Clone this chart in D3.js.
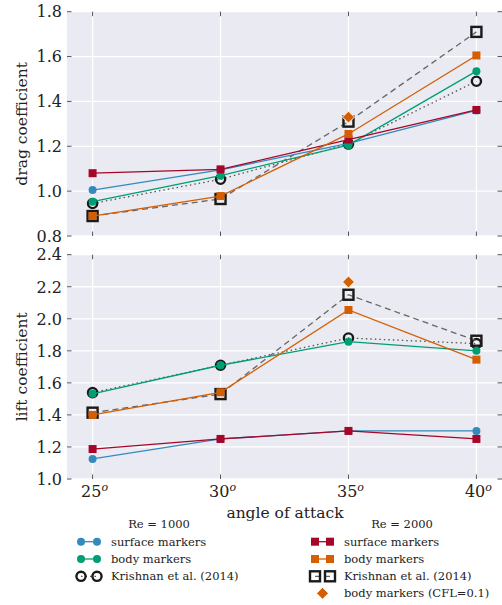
<!DOCTYPE html>
<html>
<head>
<meta charset="utf-8">
<script src="https://cdn.jsdelivr.net/npm/d3@7"></script>
<style>
  html, body { margin: 0; padding: 0; background: #fff; }
  svg { display: block; font-family: "DejaVu Serif", serif; }
</style>
</head>
<body>
<svg id="chart" width="502" height="605"></svg>
<script>
// ---------- data ----------
const angles = [25, 30, 35, 40];
const xTickLabels = ["25", "30", "35", "40"];
const dragTicks = [0.8, 1.0, 1.2, 1.4, 1.6, 1.8];
const liftTicks = [1.0, 1.2, 1.4, 1.6, 1.8, 2.0, 2.2, 2.4];

const dragSurf1000 = [1.005, 1.095, 1.213, 1.36];
const dragBody1000 = [0.953, 1.069, 1.205, 1.535];
const dragKrish1000 = [0.945, 1.053, 1.21, 1.49];
const dragSurf2000 = [1.08, 1.097, 1.23, 1.362];
const dragBody2000 = [0.889, 0.978, 1.255, 1.605];
const dragKrish2000 = [0.889, 0.965, 1.31, 1.71];
const dragCFLAngle = [35];
const dragCFL = [1.33];

const liftSurf1000 = [1.125, 1.25, 1.30, 1.30];
const liftBody1000 = [1.532, 1.71, 1.857, 1.80];
const liftKrish1000 = [1.539, 1.71, 1.88, 1.845];
const liftSurf2000 = [1.187, 1.25, 1.30, 1.25];
const liftBody2000 = [1.40, 1.541, 2.055, 1.745];
const liftKrish2000 = [1.414, 1.53, 2.15, 1.863];
const liftCFLAngle = [35];
const liftCFL = [2.23];

const colBlue = "#348ABD", colGreen = "#009E73", colRed = "#A60628", colOrange = "#D55E00";

// ---------- layout ----------
const svg = d3.select("#chart");
const x = d3.scaleLinear().domain([24, 41]).range([67, 502]);
const yDrag = d3.scaleLinear().domain([0.8, 1.8]).range([236, 11.7]);
const yLift = d3.scaleLinear().domain([1.0, 2.4]).range([479, 254.7]);

function marker(g, type, cx, cy, opts) {
  if (type === "circle") {
    g.append("circle").attr("cx", cx).attr("cy", cy).attr("r", opts.r)
      .attr("fill", opts.fill).attr("stroke", opts.stroke || "none").attr("stroke-width", opts.sw || 0);
  } else if (type === "square") {
    g.append("rect").attr("x", cx - opts.r).attr("y", cy - opts.r).attr("width", 2 * opts.r).attr("height", 2 * opts.r)
      .attr("fill", opts.fill).attr("stroke", opts.stroke || "none").attr("stroke-width", opts.sw || 0);
  } else if (type === "diamond") {
    const r = opts.r;
    g.append("path").attr("d", `M${cx},${cy - r}L${cx + r},${cy}L${cx},${cy + r}L${cx - r},${cy}Z`)
      .attr("fill", opts.fill).attr("stroke", opts.stroke || "none").attr("stroke-width", opts.sw || 0);
  }
}

const styles = {
  surf1000: { color: colBlue, type: "circle", m: { r: 4, fill: colBlue }, lw: 1.3 },
  body1000: { color: colGreen, type: "circle", m: { r: 4, fill: colGreen }, lw: 1.3 },
  krish1000: { color: "#555", dash: "1.5,3", type: "circle", m: { r: 4.6, fill: "none", stroke: "#1a1a1a", sw: 2.4 }, lw: 1.3 },
  surf2000: { color: colRed, type: "square", m: { r: 4, fill: colRed }, lw: 1.3 },
  body2000: { color: colOrange, type: "square", m: { r: 4, fill: colOrange }, lw: 1.3 },
  krish2000: { color: "#666", dash: "6,4", type: "square", m: { r: 5, fill: "none", stroke: "#1a1a1a", sw: 2.4 }, lw: 1.3 },
  cfl: { color: "none", type: "diamond", m: { r: 6, fill: colOrange, stroke: "#fff", sw: 1 } }
};

function panel(y, series, ticks, label, showX) {
  const [y0, y1] = y.range();
  const [x0, x1] = x.range();
  const g = svg.append("g");
  g.append("rect").attr("x", x0).attr("y", y1).attr("width", x1 - x0).attr("height", y0 - y1).attr("fill", "#EAEAF2");
  // grid
  g.selectAll(".gy").data(ticks).join("line")
    .attr("x1", x0).attr("x2", x1).attr("y1", d => y(d)).attr("y2", d => y(d))
    .attr("stroke", "#fff").attr("stroke-width", 1.3);
  g.selectAll(".gx").data(angles).join("line")
    .attr("x1", d => x(d)).attr("x2", d => x(d)).attr("y1", y1).attr("y2", y0)
    .attr("stroke", "#fff").attr("stroke-width", 1.3);
  // ticks (inside)
  const tc = "#555", tl = 4.5;
  g.selectAll(".tl").data(ticks).join("line")
    .attr("x1", x0).attr("x2", x0 + tl).attr("y1", d => y(d)).attr("y2", d => y(d)).attr("stroke", tc).attr("stroke-width", 1);
  g.selectAll(".tr").data(ticks).join("line")
    .attr("x1", x1 - tl).attr("x2", x1).attr("y1", d => y(d)).attr("y2", d => y(d)).attr("stroke", tc).attr("stroke-width", 1);
  g.selectAll(".tt").data(angles).join("line")
    .attr("x1", d => x(d)).attr("x2", d => x(d)).attr("y1", y1).attr("y2", y1 + tl).attr("stroke", tc).attr("stroke-width", 1);
  g.selectAll(".tb").data(angles).join("line")
    .attr("x1", d => x(d)).attr("x2", d => x(d)).attr("y1", y0 - tl).attr("y2", y0).attr("stroke", tc).attr("stroke-width", 1);
  // y tick labels
  g.selectAll(".yl").data(ticks).join("text")
    .attr("x", x0 - 5).attr("y", d => y(d)).attr("dy", "0.36em")
    .attr("text-anchor", "end").attr("font-size", 16).attr("fill", "#222")
    .text(d => d3.format(".1f")(d));
  // y label
  g.append("text").attr("transform", `translate(27,${(y0 + y1) / 2}) rotate(-90)`)
    .attr("text-anchor", "middle").attr("font-size", 15.5).attr("fill", "#222").text(label);
  if (showX) {
    const xl = g.selectAll(".xl").data(angles).join("text")
      .attr("x", d => x(d) + 2).attr("y", y0 + 18)
      .attr("text-anchor", "middle").attr("font-size", 16).attr("fill", "#222");
    xl.append("tspan").text((d, i) => xTickLabels[i]);
    xl.append("tspan").attr("dy", -6).attr("font-size", 11).attr("font-style", "italic").text("o");
  }
  // series
  const line = d3.line().x(d => x(d[0])).y(d => y(d[1]));
  series.forEach(s => {
    const st = styles[s.key];
    const pts = s.xs.map((a, i) => [a, s.vals[i]]);
    if (st.color !== "none") {
      g.append("path").attr("d", line(pts)).attr("fill", "none").attr("stroke", st.color)
        .attr("stroke-width", st.lw).attr("stroke-dasharray", st.dash || null);
    }
    pts.forEach(p => marker(g, st.type, x(p[0]), y(p[1]), st.m));
  });
}

function seriesSet(k1, b1, s1, k2, b2, s2, cA, cV) {
  return [
    { key: "krish1000", xs: angles, vals: k1 },
    { key: "krish2000", xs: angles, vals: k2 },
    { key: "surf1000", xs: angles, vals: s1 },
    { key: "body1000", xs: angles, vals: b1 },
    { key: "surf2000", xs: angles, vals: s2 },
    { key: "body2000", xs: angles, vals: b2 },
    { key: "cfl", xs: cA, vals: cV }
  ];
}

panel(yDrag, seriesSet(dragKrish1000, dragBody1000, dragSurf1000, dragKrish2000, dragBody2000, dragSurf2000, dragCFLAngle, dragCFL),
  dragTicks, "drag coefficient", false);
panel(yLift, seriesSet(liftKrish1000, liftBody1000, liftSurf1000, liftKrish2000, liftBody2000, liftSurf2000, liftCFLAngle, liftCFL),
  liftTicks, "lift coefficient", true);

svg.append("text").attr("x", 285).attr("y", 518).attr("text-anchor", "middle")
  .attr("font-size", 15.5).attr("fill", "#222").text("angle of attack");

// ---------- legend ----------
const legendCols = [
  { title: "Re = 1000", tx: 159, mx1: 81, mx2: 97, lx: 111,
    items: [["surf1000", "surface markers"], ["body1000", "body markers"], ["krish1000", "Krishnan et al. (2014)"]] },
  { title: "Re = 2000", tx: 402, mx1: 315, mx2: 330, lx: 344,
    items: [["surf2000", "surface markers"], ["body2000", "body markers"], ["krish2000", "Krishnan et al. (2014)"], ["cfl", "body markers (CFL=0.1)"]] }
];
const rowY = [541.7, 559, 576.3, 593.3];
const lg = svg.append("g");
legendCols.forEach(c => {
  lg.append("text").attr("x", c.tx).attr("y", 528).attr("text-anchor", "middle")
    .attr("font-size", 11.5).attr("fill", "#222").text(c.title);
  c.items.forEach((it, i) => {
    const st = styles[it[0]];
    const yy = rowY[i];
    if (it[0] === "cfl") {
      marker(lg, "diamond", (c.mx1 + c.mx2) / 2, yy, { r: 6, fill: colOrange, stroke: "#fff", sw: 1 });
    } else {
      lg.append("line").attr("x1", c.mx1).attr("x2", c.mx2).attr("y1", yy).attr("y2", yy)
        .attr("stroke", st.color).attr("stroke-width", st.lw).attr("stroke-dasharray", st.dash || null);
      marker(lg, st.type, c.mx1, yy, st.m);
      marker(lg, st.type, c.mx2, yy, st.m);
    }
    lg.append("text").attr("x", c.lx).attr("y", yy).attr("dy", "0.35em")
      .attr("font-size", 11.5).attr("fill", "#222").text(it[1]);
  });
});
</script>
</body>
</html>
